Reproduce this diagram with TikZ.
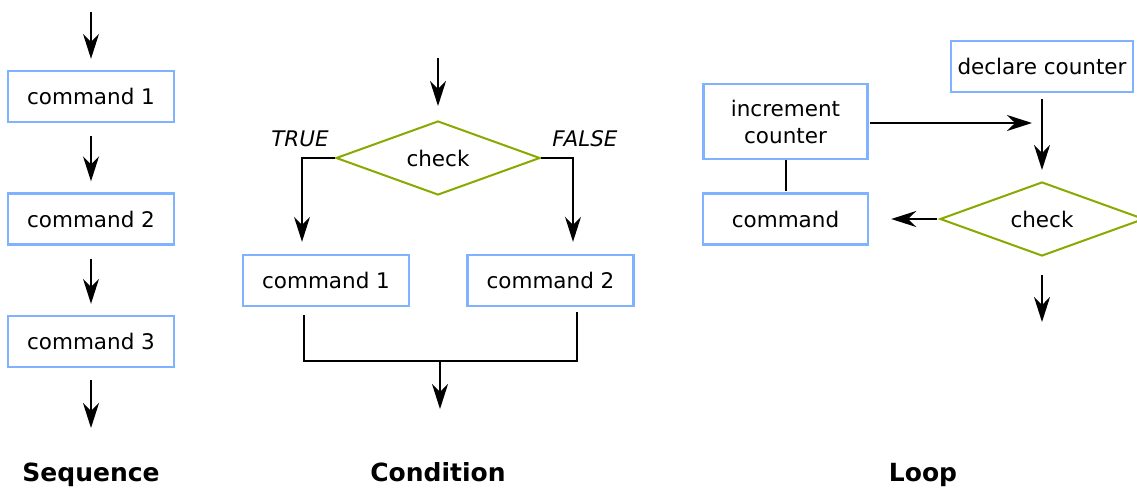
\documentclass[tikz,border=0pt]{standalone}
\usepackage{fontspec}
\setmainfont{DejaVu Sans}
\usetikzlibrary{arrows.meta,shapes.geometric}
\definecolor{boxblue}{HTML}{80B3FF}
\definecolor{diagreen}{HTML}{88AA00}
\begin{document}
\begin{tikzpicture}[x=1pt,y=-1pt,
  font=\fontsize{21.5}{26}\selectfont,
  cmd/.style={draw=boxblue,line width=2.4pt,minimum width=166pt,minimum height=51pt,inner sep=0pt,align=center},
  chk/.style={diamond,draw=diagreen,line width=2pt,minimum width=204pt,minimum height=74pt,inner sep=0pt,aspect=2.75},
  flow/.style={line width=1.7pt,-{Stealth[length=25pt,width=16pt,inset=8pt]}},
  plain/.style={line width=1.7pt},
  ttl/.style={font=\fontsize{25}{30}\selectfont\bfseries,anchor=base},
  lbl/.style={font=\fontsize{21.5}{26}\selectfont\itshape}]
\useasboundingbox (0,0) rectangle (1137,487);

% Sequence
\coordinate (s0) at (91,12);
\node[cmd] (s1) at (91,96.5) {command 1};
\node[cmd] (s2) at (91,219) {command 2};
\node[cmd] (s3) at (91,341.5) {command 3};
\coordinate (s4) at (91,428);
\draw[flow] (s0) -- ([yshift=11pt]s1.north);
\draw[flow] ([yshift=-13pt]s1.south) -- ([yshift=11pt]s2.north);
\draw[flow] ([yshift=-13pt]s2.south) -- ([yshift=11pt]s3.north);
\draw[flow] ([yshift=-12pt]s3.south) -- (s4);
\node[ttl] (tseq) at (91,481) {Sequence};

% Condition
\coordinate (c0) at (438,58);
\node[chk] (cc) at (438,158) {check};
\node[cmd] (c1) at (326,280.5) {command 1};
\node[cmd] (c2) at (550.5,280.5) {command 2};
\draw[flow] (c0) -- ([yshift=14pt]cc.north);
\draw[flow] (cc.west) -| ([yshift=12pt]c1.north -| 302,0);
\draw[flow] (cc.east) -| ([yshift=12pt]c2.north -| 573,0);
\node[lbl] (tt) at (300,139) {TRUE};
\node[lbl] (ff) at (585,139) {FALSE};
\coordinate (j1) at (304,315);
\coordinate (j2) at (577,312);
\coordinate (jm) at (440,361);
\coordinate (jo) at (440,409);
\draw[plain] (j1) |- (jm) -| (j2);
\draw[flow] (jm) -- (jo);
\node[ttl] (tcond) at (438,481) {Condition};

% Loop
\node[cmd,minimum width=182pt] (ld) at (1042,66.5) {declare counter};
\node[chk] (lc) at (1042,219) {check};
\node[cmd,minimum width=164pt,minimum height=75pt,align=center,font=\fontsize{21.5}{27}\selectfont] (li) at (785.5,121.5) {increment\\counter};
\node[cmd,minimum width=165pt] (lm) at (785.5,219) {command};
\coordinate (lt) at (1042,170);
\coordinate (la) at (1032,123);
\coordinate (lo) at (1042,322);
\coordinate (l1) at (786,160);
\coordinate (l2) at (786,191);
\draw[flow] ([yshift=-6pt]ld.south) -- (lt);
\draw[flow] ([xshift=1pt]li.east |- la) -- (la);
\draw[plain] (l1) -- (l2);
\draw[flow] ([xshift=-2pt]lc.west) -- ([xshift=22pt]lm.east);
\draw[flow] ([yshift=-18pt]lc.south) -- (lo);
\node[ttl] (tloop) at (923,481) {Loop};
\end{tikzpicture}
\end{document}
